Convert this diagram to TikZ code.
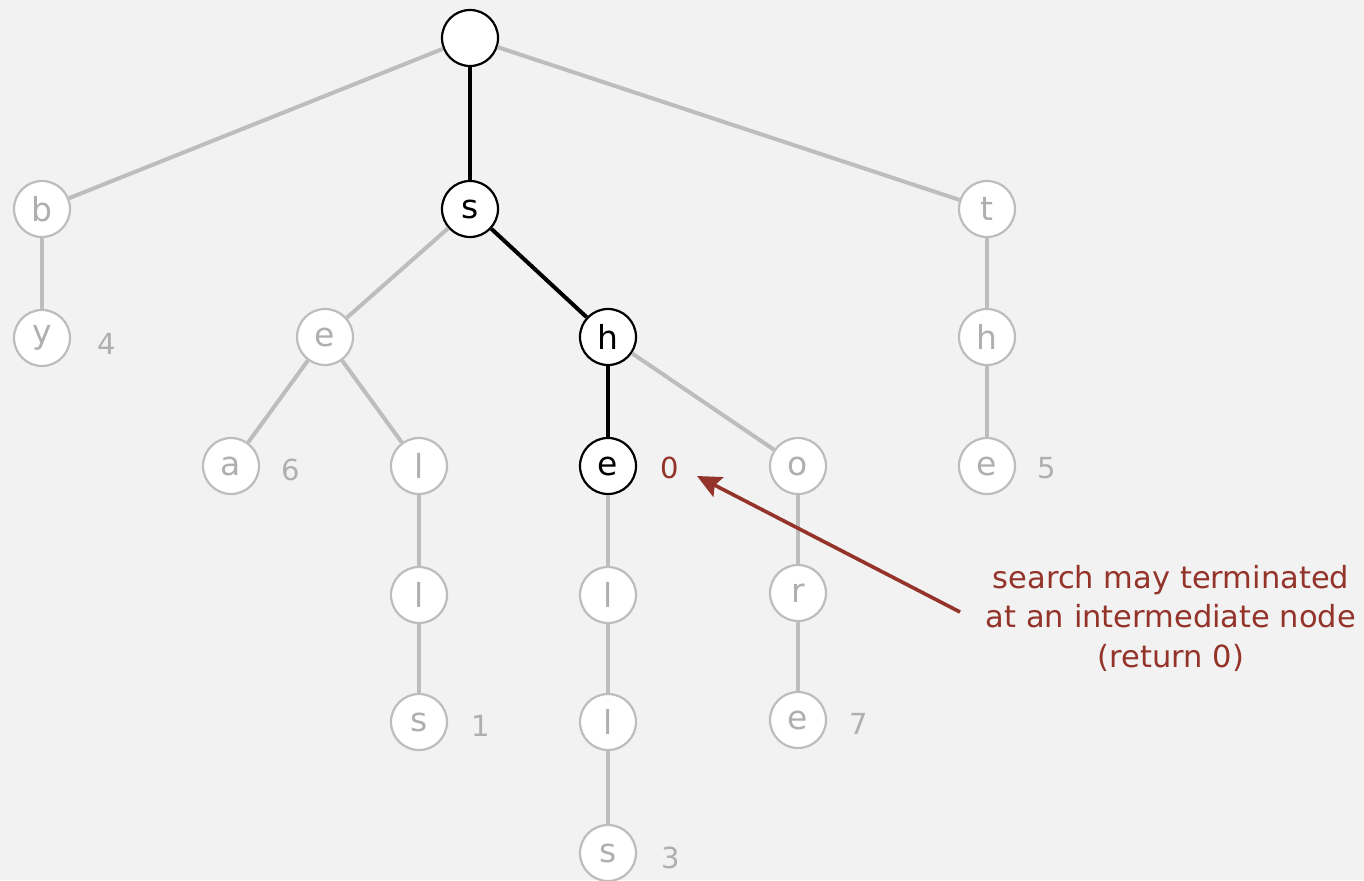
\documentclass[tikz,border=0pt]{standalone}
\usepackage{fontspec}
\setmainfont{DejaVu Sans}
\usetikzlibrary{arrows.meta}
\definecolor{bg}{HTML}{F2F2F2}
\definecolor{gr}{HTML}{BDBDBD}
\definecolor{grtext}{HTML}{AFAFAF}
\definecolor{redc}{HTML}{93332A}
\tikzset{
  tnode/.style={circle, draw=gr, fill=white, line width=2.2pt, minimum size=56pt, inner sep=0pt, text=grtext, font=\fontsize{33}{36}\selectfont},
  bnode/.style={tnode, draw=black, text=black},
  gedge/.style={draw=gr, line width=4pt},
  bedge/.style={draw=black, line width=4pt},
  val/.style={text=grtext, font=\fontsize{29}{32}\selectfont, anchor=center},
  rval/.style={val, text=redc},
}
\begin{document}
\begin{tikzpicture}[x=1pt,y=-1pt]
\fill[bg] (0,0) rectangle (1364,880);
\useasboundingbox (0,0) rectangle (1364,880);
% nodes
\node[bnode] (root) at (470,38) {};
\node[tnode] (b) at (42,209) {b};
\node[bnode] (s) at (470,209) {s};
\node[tnode] (t) at (987,209) {t};
\node[tnode] (y) at (42,338) {y};
\node[tnode] (e1) at (325,337) {e};
\node[bnode] (h) at (608,337) {h};
\node[tnode] (h2) at (987,337) {h};
\node[tnode] (a) at (231,466) {a};
\node[tnode] (l1) at (419,466) {l};
\node[bnode] (e2) at (608,466) {e};
\node[tnode] (o) at (798,466) {o};
\node[tnode] (e3) at (987,466) {e};
\node[tnode] (l2) at (419,595) {l};
\node[tnode] (l3) at (608,595) {l};
\node[tnode] (r) at (798,593) {r};
\node[tnode] (s2) at (419,722) {s};
\node[tnode] (l4) at (608,722) {l};
\node[tnode] (e4) at (798,720) {e};
\node[tnode] (s3) at (608,853) {s};
% edges
\path[gedge] (root) -- (b);
\path[gedge] (root) -- (t);
\path[bedge] (root) -- (s);
\path[gedge] (b) -- (y);
\path[gedge] (s) -- (e1);
\path[bedge] (s) -- (h);
\path[gedge] (t) -- (h2);
\path[gedge] (e1) -- (a);
\path[gedge] (e1) -- (l1);
\path[bedge] (h) -- (e2);
\path[gedge] (h) -- (o);
\path[gedge] (h2) -- (e3);
\path[gedge] (l1) -- (l2);
\path[gedge] (e2) -- (l3);
\path[gedge] (o) -- (r);
\path[gedge] (l2) -- (s2);
\path[gedge] (l3) -- (l4);
\path[gedge] (r) -- (e4);
\path[gedge] (l4) -- (s3);
% values
\node[val] (v4) at (107,344) {4};
\node[val] (v6) at (291,470) {6};
\node[val] (v1) at (481,726) {1};
\node[rval] (v0) at (670,468) {0};
\node[val] (v7) at (859,724) {7};
\node[val] (v5) at (1047,468) {5};
\node[val] (v3) at (671,858) {3};
% annotation
\node[text=redc, font=\fontsize{30.5}{39.5}\selectfont, align=center] (note) at (1171,618)
  {search may terminated\\at an intermediate node\\(return 0)};
\coordinate (as) at (960,612);
\coordinate (ae) at (697,476);
\draw[redc, line width=3.6pt, -{Stealth[length=24pt,width=22pt,inset=4pt]}] (as) -- (ae);
\end{tikzpicture}
\end{document}
